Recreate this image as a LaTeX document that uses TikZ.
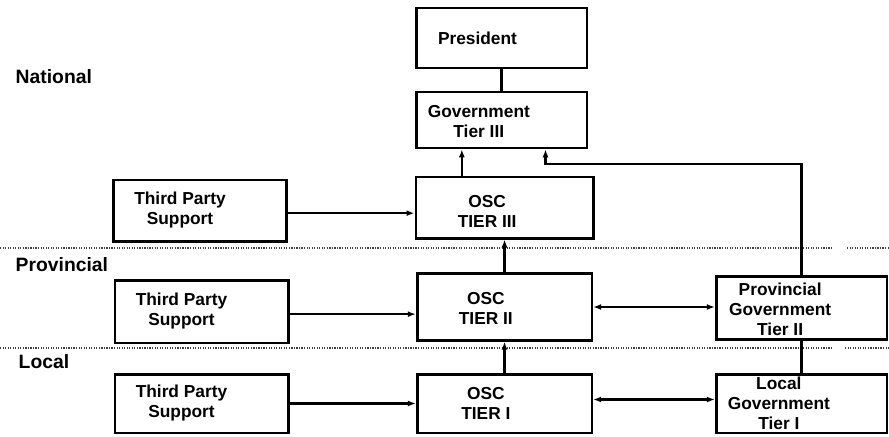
\documentclass[tikz,border=0pt]{standalone}
\usepackage{fontspec}
\setmainfont{Liberation Sans}
\usetikzlibrary{positioning,arrows.meta,calc}

\newcommand{\boxfont}{\fontsize{13}{15}\selectfont\bfseries}
\newcommand{\tierfont}{\fontsize{14.5}{16}\selectfont\bfseries}

\begin{document}
\begin{tikzpicture}[x=0.75pt, y=-0.75pt,
    box/.style={draw, line width=2pt, minimum width=129pt, minimum height=45pt, inner sep=0pt},
    txt/.style={font=\boxfont, align=center, xshift=-15pt},
    tier/.style={font=\tierfont, anchor=west},
    link/.style={line width=1.6pt},
    arr/.style={link, -{Latex[length=6pt,width=4.5pt]}},
    dbl/.style={link, {Latex[length=6pt,width=4.5pt]}-{Latex[length=6pt,width=4.5pt]}},
    sep/.style={densely dotted, line width=0.9pt, black!75}]
        \useasboundingbox (0,0) rectangle (889,436);
        % level separators
        \draw[sep] (0,248) -- (833,248); \draw[sep] (847,248) -- (889,248);
        \draw[sep] (0,348) -- (833,348); \draw[sep] (845,348) -- (889,348);
        \node[tier] (nat) at (11,77) {National};
        \node[tier] (pro) at (11,265) {Provincial};
        \node[tier] (loc-l) at (14,362) {Local};
        % national
        \node[box, minimum width=128pt, label={[txt,xshift=-3pt]center:President}] (pres) at (501.5,38) {};
        \node[box, minimum width=128pt, minimum height=42pt, label={[txt,xshift=-2pt,yshift=-1pt]center:Government\\Tier III}] (gov3) at (501.5,120) {};
        \node[box, minimum width=133pt, minimum height=46pt, label={[txt,xshift=2pt,yshift=-3pt]center:OSC\\TIER III}] (osc3) at (504.5,207.5) {};
        \node[box, minimum width=130pt, minimum height=46pt, label={[txt]center:Third Party\\Support}] (tp3) at (200,210.5) {};
        % provincial
        \node[box, minimum width=131pt, minimum height=50pt, label={[txt,xshift=1pt,yshift=-1pt]center:OSC\\TIER II}] (osc2) at (504.5,307) {};
        \node[box, minimum width=130pt, minimum height=47pt, label={[txt]center:Third Party\\Support}] (tp2) at (201.5,311.5) {};
        \node[box, minimum width=128pt, minimum height=47pt, label={[txt,xshift=-1pt,yshift=-1pt]center:Provincial\\Government\\Tier II}] (prov) at (801.5,308) {};
        % local
        \node[box, minimum width=131pt, minimum height=44pt, label={[txt,xshift=1pt]center:OSC\\TIER I}] (osc1) at (504.5,403.5) {};
        \node[box, minimum width=130pt, minimum height=44pt, label={[txt]center:Third Party\\Support}] (tp1) at (201.5,403.5) {};
        \node[box, minimum width=128pt, minimum height=44pt, label={[txt,xshift=-2pt]center:Local\\Government\\Tier I}] (loc) at (801.5,403.5) {};
        % connectors
        \draw[link] (pres.south) -- (gov3.north);
        \draw[arr] ([xshift=-32pt]osc3.north) -- ([xshift=-32pt]osc3.north |- gov3.south);
        \draw[arr] (prov.north) |- ([xshift=33pt,yshift=-11pt]gov3.south) -- ([xshift=33pt]gov3.south);
        \draw[arr] (osc2.north) -- (osc3.south);
        \draw[arr] (osc1.north) -- (osc2.south);
        \draw[link] (prov.south) -- (loc.north);
        \draw[arr] ([yshift=-2pt]tp3.east) -- ([yshift=-2pt]tp3.east -| osc3.west);
        \draw[arr] ([yshift=-2pt]tp2.east) -- ([yshift=-2pt]tp2.east -| osc2.west);
        \draw[arr] (tp1.east) -- (tp1.east -| osc1.west);
        \draw[dbl] (osc2.east) -- (osc2.east -| prov.west);
        \draw[dbl] ([yshift=3pt]osc1.east) -- ([yshift=3pt]osc1.east -| loc.west);
      \end{tikzpicture}
\end{document}
